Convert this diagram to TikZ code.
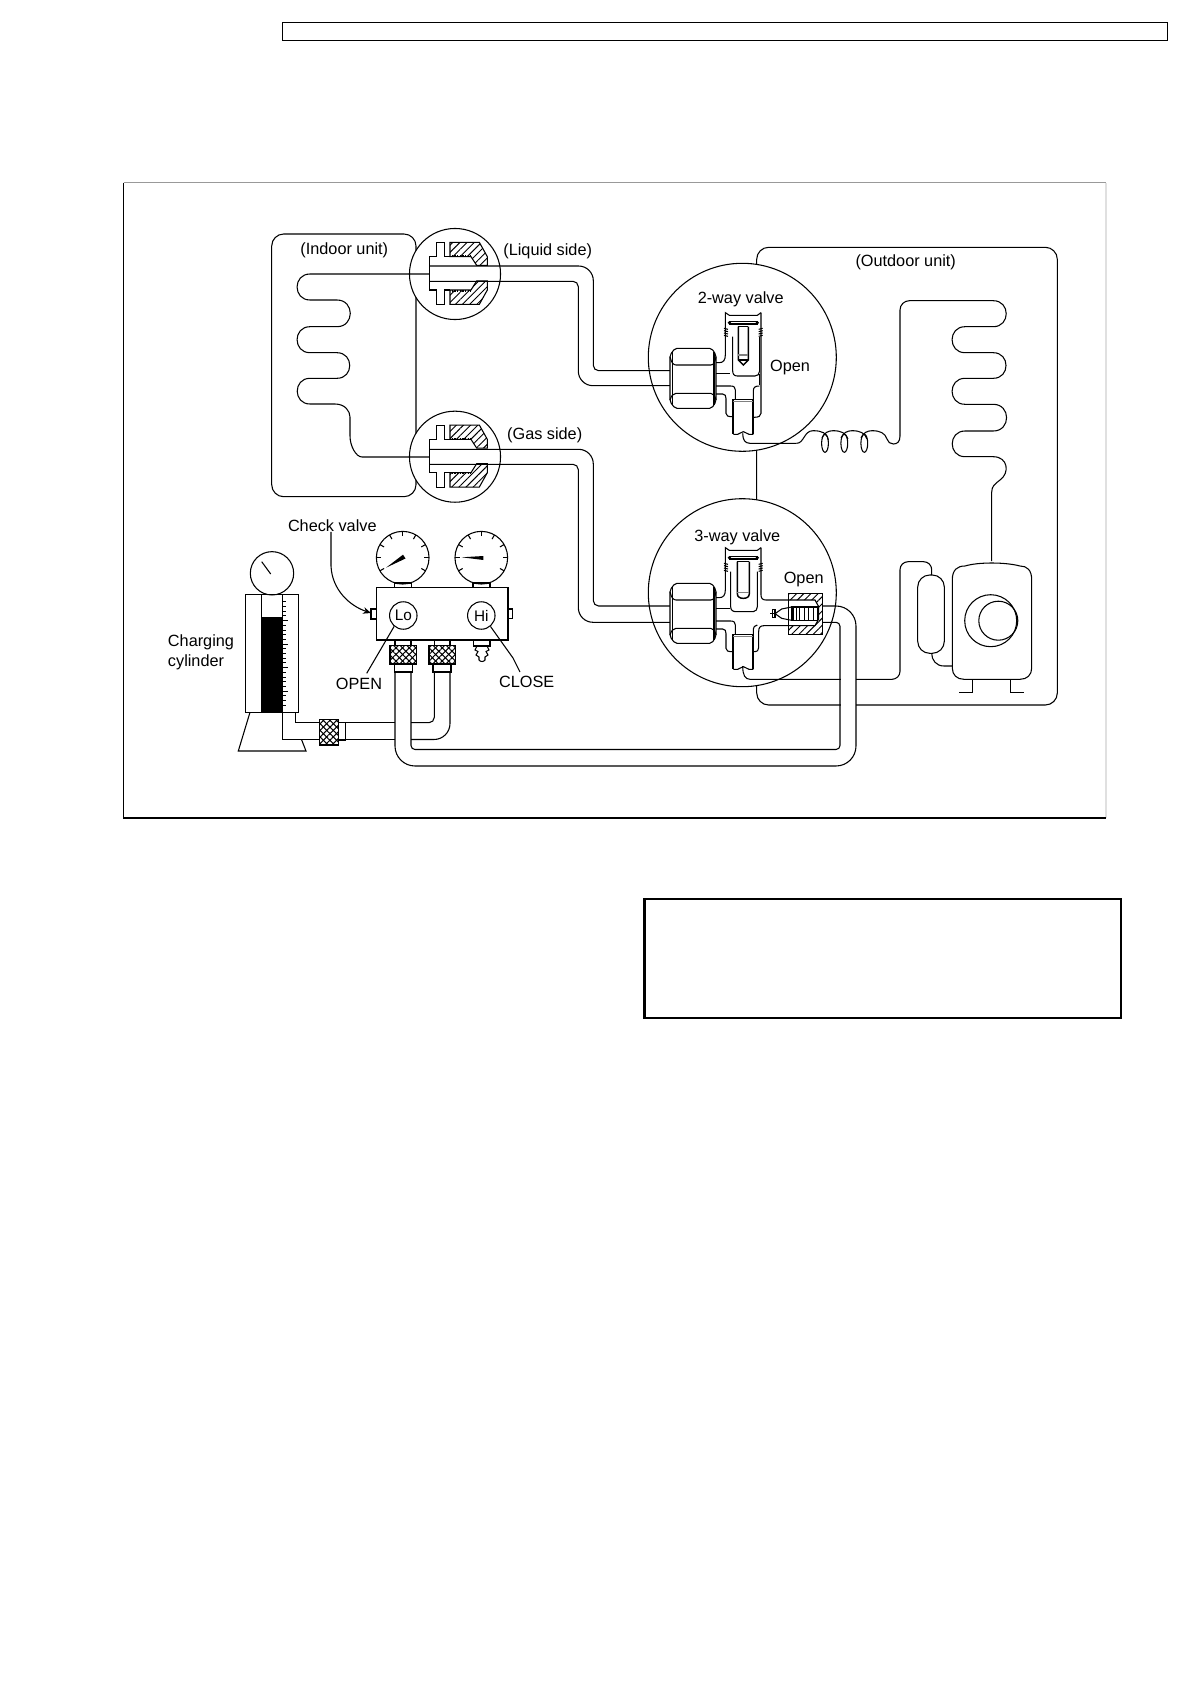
\documentclass[tikz,border=0pt]{standalone}
\usepackage{fontspec}
\setmainfont{Liberation Sans}
\usetikzlibrary{arrows.meta, patterns.meta}

\tikzset{
    every node/.style={inner sep=0pt, font=\fontsize{12.2}{15}\selectfont},
    hatched/.style={pattern={Lines[angle=45,distance=3.8pt,line width=.7pt]}},
    knurl/.style={pattern={Lines[angle=45,distance=3.5pt,line width=.8pt]},
        postaction={pattern={Lines[angle=-45,distance=3.5pt,line width=.8pt]}}},
    lbend/.style={out=180, in=180, looseness=1.7},
    rbend/.style={out=0, in=0, looseness=1.7},
    ring/.style={draw, circle, fill=white},
    flarejoint/.pic={
        \begin{scope}[scale=1/3]
            \draw[hatched] (120,52) -- (208,52) -- (232,95) -- (232,121) -- (200,121) -- (183,95) -- (120,95) -- cycle;
            \draw[hatched] (120,238) -- (208,238) -- (232,195) -- (232,168) -- (200,168) -- (183,195) -- (120,195) -- cycle;
            \draw (120,95) -- (103,95) -- (103,52) -- (80,52) -- (80,95) -- (58,95) -- (58,195) -- (80,195) -- (80,238) -- (103,238) -- (103,195) -- (120,195);
            \draw[densely dotted, line width=1pt] (125,92) -- (183,92);
            \draw[densely dotted, line width=1pt] (125,198) -- (183,198);
        \end{scope}
    },
    hexnut/.pic={
        \begin{scope}[scale=1/3]
            \draw[rounded corners=1.5pt, fill=white] (45,145) -- (155,145) -- (168,165) -- (168,305) -- (155,325) -- (45,325) -- (30,305) -- (30,165) -- cycle;
            \draw (38,155) -- (38,315);
            \draw (162,155) -- (162,315);
            \draw (30,170) .. controls (34,188) and (40,195) .. (48,195) -- (152,195) .. controls (160,195) and (165,188) .. (168,170);
            \draw (30,300) .. controls (34,287) and (40,280) .. (48,280) -- (152,280) .. controls (160,280) and (165,287) .. (168,300);
        \end{scope}
    },
    valvestem/.pic={
        \begin{scope}[scale=1/3]
            \draw (168,188) -- (178,188) .. controls (190,188) and (196,180) .. (196,165) -- (196,38) -- (208,46) -- (292,46) -- (303,38);
            \draw (208,65) rectangle (292,72);
            \draw (208,68) circle (3);
            \draw (292,68) circle (3);
            \foreach \y in {85,92,99,106} {
                \draw (192,\y) -- (204,\y+3);
                \draw (296,\y+3) -- (308,\y);
            }
            \draw (168,282) -- (188,282) .. controls (196,282) and (198,288) .. (198,296) -- (198,340) .. controls (198,348) and (204,350) .. (218,350);
            \draw (168,258) -- (212,258) .. controls (222,258) and (226,262) .. (226,270) -- (226,298);
            \draw (168,220) -- (210,220);
            \draw[line width=1.3pt] (220,298) -- (220,403);
            \draw[line width=1.3pt] (280,298) -- (280,403);
            \draw (220,298) -- (280,298);
            \draw[gray] (220,304) -- (280,304);
            \draw (220,403) -- (233,403) .. controls (240,403) and (242,395) .. (250,395) .. controls (258,395) and (260,403) .. (267,403) -- (280,403);
        \end{scope}
    },
    twowayparts/.pic={
        \begin{scope}[scale=1/3]
            \draw (303,38) -- (303,340) .. controls (303,348) and (296,352) .. (282,352);
            \draw (218,110) -- (218,212) .. controls (218,222) and (222,228) .. (232,228) -- (285,228) .. controls (294,228) and (298,222) .. (298,215);
            \draw (298,110) -- (298,215);
            \draw (298,222) -- (298,256);
            \draw (280,298) -- (280,272) .. controls (280,262) and (286,258) .. (298,258);
            \draw[line width=1.1pt] (235,80) -- (235,180) -- (250,195) -- (265,180) -- (265,80);
            \draw (235,80) -- (265,80);
            \draw[gray] (235,165) -- (265,165);
            \draw (235,180) -- (265,180);
        \end{scope}
    },
    threewayparts/.pic={
        \begin{scope}[scale=1/3]
            \draw (303,38) -- (303,180) .. controls (303,190) and (308,195) .. (318,195) -- (385,195);
            \draw (385,272) -- (312,272) .. controls (300,272) and (296,278) .. (296,290) -- (296,338) .. controls (296,346) and (292,350) .. (282,350);
            \draw (280,298) -- (280,282) .. controls (280,276) and (284,272) .. (292,270);
            \draw (212,110) -- (212,215) .. controls (212,225) and (218,230) .. (228,230) -- (280,230) .. controls (288,230) and (292,222) .. (292,215) -- (292,110);
            \draw[line width=1.1pt] (232,80) -- (232,176) .. controls (232,186) and (240,190) .. (250,190) .. controls (260,190) and (268,186) .. (268,176) -- (268,80);
            \draw (232,80) -- (268,80);
            \draw[gray] (232,172) -- (268,172);
            \path[hatched, even odd rule] (385,175) rectangle (488,298) (385,195) -- (465,195) -- (476,215) -- (476,252) -- (465,272) -- (385,272) -- cycle;
            \draw (385,175) rectangle (488,298);
            \draw (385,195) -- (465,195) -- (476,215) -- (476,252) -- (465,272) -- (385,272);
            \draw (330,236) -- (345,236);
            \draw (338,224) rectangle (345,248);
            \draw (345,236) -- (365,222) -- (395,216) -- (395,256) -- (365,250) -- (345,236);
            \draw[line width=1.6pt] (400,217) -- (400,255);
            \draw (395,216) rectangle (472,256);
            \foreach \x in {408,418,432,446,460} {
                \draw[line width=.5pt] (\x,216) -- (\x,256);
            }
        \end{scope}
    },
}

\begin{document}
\begin{tikzpicture}[x=.75pt, y=-.75pt, line width=.8pt, >=Stealth]
    \useasboundingbox (0,0) rectangle (1190,1684);

    \draw[line width=1pt] (282.5,22.5) rectangle (1167.5,40.5);
    \draw[black!40] (123.5,182.5) -- (1106,182.5);
    \draw[black!12] (1106,182.5) -- (1106,818);
    \draw[line width=.9pt] (123.5,182.5) -- (123.5,818) -- (1106,818);
    \draw[line width=2pt] (644.5,899) rectangle (1121,1018);

    \draw[rounded corners=9pt] (271.7,234) rectangle (416,496.7);
    \draw[rounded corners=9pt] (756.7,247.3) rectangle (1057.3,705);

    \node[ring, minimum size=68.3pt] (liquidjoint) at (455,274) {};
    \node[ring, minimum size=68.3pt] (gasjoint) at (455,456.7) {};
    \node[ring, minimum size=141pt] (twoway) at (742.3,357.3) {};
    \node[ring, minimum size=141pt] (threeway) at (742.3,592.7) {};

    \node (indoor) at (344.3,250) {(Indoor unit)};
    \node (liquid) at (547.7,251) {(Liquid side)};
    \node (gas) at (544.7,435) {(Gas side)};
    \node (outdoor) at (905.7,262.5) {(Outdoor unit)};
    \node (twowaylabel) at (740.7,299.7) {2-way valve};
    \node (twowayopen) at (790,367.5) {Open};
    \node (threewaylabel) at (737.3,537) {3-way valve};
    \node (threewayopen) at (803.7,579.5) {Open};
    \node (checklabel) at (332.3,525.3) {Check valve};
    \node[align=left] (cylinderlabel) at (201,652) {Charging\\cylinder};
    \node (openlabel) at (359,684) {OPEN};
    \node (closelabel) at (526.7,681.7) {CLOSE};

    \draw (429.3,274) -- (310,274) to[lbend] (310,300) -- (337,300) to[rbend] (337,326.7) -- (310,326.7) to[lbend] (310,352.7) -- (337,352.7) to[rbend] (337,378.3) -- (310,378.3) to[lbend] (310,404) -- (335,404) .. controls (345,404) and (350,411) .. (350,417) -- (350,436) .. controls (350,446) and (356,457) .. (362,457) -- (429.3,457);

    \pic at (410,225) {flarejoint};
    \pic at (410,407.7) {flarejoint};

    \draw[rounded corners=11pt] (429.3,266) -| (593.3,300) [rounded corners=4pt] |- (670,370.7);
    \draw[rounded corners=4pt] (429.3,281.3) -| (578.3,330) [rounded corners=11pt] |- (670,385.7);
    \draw[rounded corners=11pt] (429.3,449.3) -| (593.3,520) [rounded corners=4pt] |- (670,606);
    \draw[rounded corners=4pt] (429.3,464.3) -| (578.3,520) [rounded corners=11pt] |- (670,622.3);

    \draw (742.7,433.3) .. controls (742.7,440) and (745,443.3) .. (750,443.3) -- (796.7,443.3);
    \draw (796.7,443.3) .. controls (804,443.3) and (804,430.7) .. (813,430.7) .. controls (822,430.7) and (827,433) .. (828.3,440);
    \foreach \x in {822,841,861} {
        \draw (\x,438) .. controls (\x+2,433) and (\x+6,430.7) .. (\x+11,430.7) .. controls (\x+19,430.7) and (\x+24,433) .. (\x+26,439);
    }
    \draw (825,443.3) ellipse (3.4 and 9);
    \draw (844.3,443.3) ellipse (3.4 and 9);
    \draw (864.3,443.3) ellipse (3.4 and 9);
    \draw (887,439) .. controls (888,442) and (890,444) .. (893.3,444) .. controls (897,444) and (900,442) .. (900,436);
    \draw[rounded corners=7pt] (900,436) -- (900,300.7) -- (950,300.7);
    \draw (950,300.7) -- (993.3,300.7) to[rbend] (993.3,326.7) -- (965,326.7) to[lbend] (965,352.7) -- (993.3,352.7) to[rbend] (993.3,378.3) -- (965,378.3) to[lbend] (965,404.3) -- (993.3,404.3) to[rbend] (993.3,431) -- (965,431) to[lbend] (965,456.7) -- (993.3,456.7) .. controls (1008,456.7) and (1010,473) .. (1000,480) .. controls (995,484) and (991.7,486) .. (991.7,492) -- (991.7,561);

    \pic at (660,300) {hexnut};
    \pic at (660,300) {valvestem};
    \pic at (660,300) {twowayparts};
    \pic at (660,535) {hexnut};
    \pic at (660,535) {valvestem};
    \pic at (660,535) {threewayparts};

    \draw (742.7,666) .. controls (742.7,675) and (745,679.3) .. (750,679.3) -- (840,679.3);
    \draw[rounded corners=6pt] (840,679.3) -- (900,679.3) -- (900,561.7) -- (931.7,561.7) -- (931.7,575);
    \draw[rounded corners=9pt] (917.7,575) rectangle (944.3,653.3);
    \draw (931.7,653.3) .. controls (931.7,660) and (936,666) .. (944,666) -- (952.3,666);
    \draw (952.3,580) .. controls (952.3,570) and (957,566) .. (965,566) .. controls (978,562) and (1005,562) .. (1020,566) .. controls (1027,566) and (1031.7,570) .. (1031.7,580) -- (1031.7,668) .. controls (1031.7,675) and (1027,679.3) .. (1020,679.3) -- (964,679.3) .. controls (957,679.3) and (952.3,675) .. (952.3,668) -- cycle;
    \draw (990.7,620.7) circle (26);
    \draw (998.3,620.7) circle (19.5);
    \draw (972.7,679.3) |- (959,692.3);
    \draw (1010.7,679.3) |- (1024.3,692.3);

    \fill[white] (840.5,630) rectangle (855.5,748);
    \draw[rounded corners=15pt] (822.7,606) -| (856,766) -| (395,671.7);
    \draw[rounded corners=3pt] (822.7,622.3) -| (840,749.5) -| (411,671.7);

    \node[draw, circle, minimum size=32.5pt] (cylindergauge) at (272,573.3) {};
    \draw (261.7,561.7) -- (270.7,574);
    \draw (245.7,594.3) rectangle (298.3,712.3);
    \draw (261.7,594.3) -- (261.7,712.3);
    \draw (282.7,594.3) -- (282.7,712.3);
    \draw (261.7,617.7) -- (282.7,617.7);
    \fill (261.7,617.7) rectangle (282.7,712.3);
    \foreach \y in {601.7,606.4,...,707} {
        \draw[line width=.5pt] (282.7,\y) -- ++(3.5,0);
    }
    \foreach \y in {620.4,643.9,...,707} {
        \draw[line width=.5pt] (282.7,\y) -- ++(5,0);
    }
    \draw (250,712.3) -- (238.3,751) -- (306,751) -- (301.7,740);
    \draw (282.7,712.3) -- (282.7,739.5) -- (319.3,739.5);
    \draw (295.7,712.3) -- (295.7,722.7) -- (319.3,722.7);
    \draw[knurl] (319.3,719.3) rectangle (338.3,745);
    \draw[line width=1pt] (338.3,722.3) rectangle (345.7,740);

    \draw (345.7,722.7) -- (395,722.7);
    \draw (345.7,739.5) -- (395,739.5);
    \draw[rounded corners=4pt] (411,722.7) -| (434.3,672);
    \draw[rounded corners=12pt] (411,739.5) -| (450,672);

    \node[draw, circle, minimum size=39.5pt, fill=white] (logauge) at (402.7,557.7) {};
    \node[draw, circle, minimum size=39.5pt, fill=white] (higauge) at (481.3,557.7) {};
    \foreach \a in {-210,-180,...,30} {
        \draw ([shift={(\a:21.5)}]logauge.center) -- ([shift={(\a:26.3)}]logauge.center);
        \draw ([shift={(\a:21.5)}]higauge.center) -- ([shift={(\a:26.3)}]higauge.center);
    }
    \fill (386,567.7) -- (403,554.7) -- (405.5,558.5) -- cycle;
    \fill (461.7,557.3) -- (483.3,556) -- (483.3,560) -- cycle;
    \draw (394.3,583) rectangle (411.7,587.7);
    \draw (473,583) rectangle (490,587.7);

    \draw (376.7,587.7) rectangle (508,640);
    \draw (371,609) rectangle (376.7,619);
    \draw (508,609) rectangle (512.3,618.3);
    \node[ring, minimum size=20.6pt, font=\fontsize{11.5}{14}\selectfont] (lo) at (403.3,615.5) {Lo};
    \node[ring, minimum size=20.6pt, font=\fontsize{11.5}{14}\selectfont] (hi) at (481.3,615.5) {Hi};

    \draw (395,640) -- (395,645.7);
    \draw (411,640) -- (411,645.7);
    \draw (434.3,640) -- (434.3,645.7);
    \draw (450,640) -- (450,645.7);
    \draw[knurl] (390,645.7) rectangle (416.7,664);
    \draw[knurl] (429,645.7) rectangle (455.7,664);
    \draw (394.3,664) rectangle (412.3,672);
    \draw (433,664) rectangle (451,672);
    \draw (473.3,640) rectangle (490,646);
    \draw (477,646) -- (475,650) -- (478,651.5) -- (476,655) -- (479,657) -- (479,660) .. controls (480,662) and (484,662) .. (485,660) -- (485,657) -- (488,655) -- (486,651.5) -- (489,650) -- (487,646);

    \coordinate (checkplug) at (371,613);
    \draw[-{Stealth[length=6pt,width=5pt]}] (checklabel.south -| 331,0) -- (331,566) .. controls (332,590) and (350,606) .. (checkplug);
    \draw (lo.230) -- (366.7,673.3);
    \draw (hi.-50) -- (513,658) -- (520,672);
\end{tikzpicture}
\end{document}
